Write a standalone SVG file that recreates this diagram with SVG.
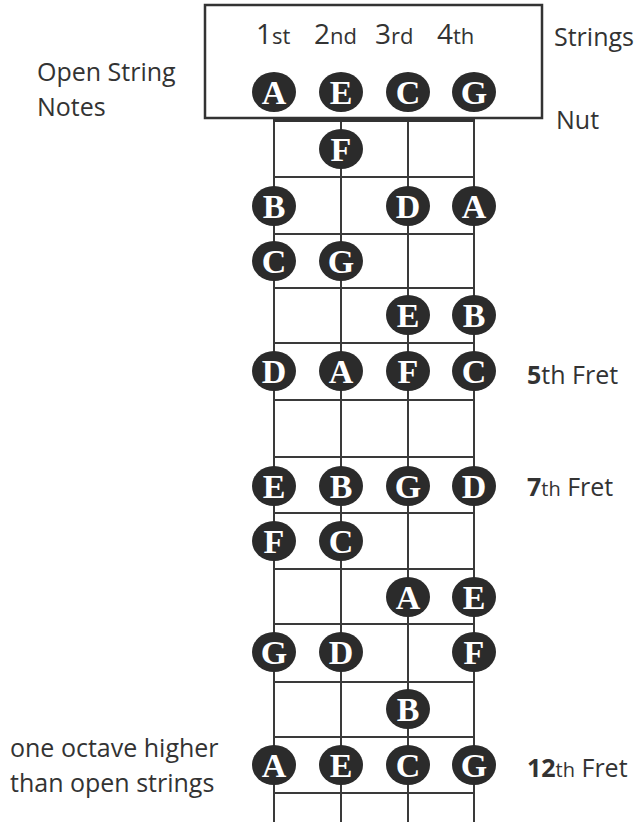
<svg xmlns="http://www.w3.org/2000/svg" width="635" height="822" viewBox="0 0 635 822">
<style>
.lbl{font-family:"Open Sans","Liberation Sans",sans-serif;fill:#333;font-size:25px}
.b{font-weight:bold}
.sm{font-size:20px}
.dot ellipse{fill:#2b2b2b}
.dot text{font-family:"Liberation Serif","DejaVu Serif",serif;font-weight:bold;font-size:34px;fill:#fff;text-anchor:middle}
.ln{stroke:#3a3a3a;stroke-width:2;fill:none}
</style>
<rect width="635" height="822" fill="#fff"/>
<g id="header">
<rect x="205" y="5" width="337" height="113" fill="none" stroke="#333" stroke-width="2.5"/>
<text class="lbl" y="44"><tspan x="256" font-size="28">1</tspan><tspan font-size="22">st</tspan></text>
<text class="lbl" y="44"><tspan x="314" font-size="28">2</tspan><tspan font-size="22">nd</tspan></text>
<text class="lbl" y="44"><tspan x="375" font-size="28">3</tspan><tspan font-size="22">rd</tspan></text>
<text class="lbl" y="44"><tspan x="437" font-size="28">4</tspan><tspan font-size="22">th</tspan></text>
</g>
<g id="connectors">
<line class="ln" x1="274" y1="120" x2="274" y2="822"/>
<line class="ln" x1="341" y1="120" x2="341" y2="822"/>
<line class="ln" x1="408" y1="120" x2="408" y2="822"/>
<line class="ln" x1="474" y1="120" x2="474" y2="822"/>
<line x1="273" y1="120.5" x2="475" y2="120.5" stroke="#333" stroke-width="3"/>
<g class="ln">
<line x1="274" y1="177" x2="474" y2="177"/>
<line x1="274" y1="234" x2="474" y2="234"/>
<line x1="274" y1="288" x2="474" y2="288"/>
<line x1="274" y1="343" x2="474" y2="343"/>
<line x1="274" y1="400" x2="474" y2="400"/>
<line x1="274" y1="457" x2="474" y2="457"/>
<line x1="274" y1="513" x2="474" y2="513"/>
<line x1="274" y1="569" x2="474" y2="569"/>
<line x1="274" y1="624" x2="474" y2="624"/>
<line x1="274" y1="682" x2="474" y2="682"/>
<line x1="274" y1="737" x2="474" y2="737"/>
<line x1="274" y1="793" x2="474" y2="793"/>
</g>
</g>
<g id="open-A" class="dot"><ellipse cx="274" cy="92" rx="22" ry="20"/><text x="274" y="104">A</text></g>
<g id="open-E" class="dot"><ellipse cx="341" cy="92" rx="22" ry="20"/><text x="341" y="104">E</text></g>
<g id="open-C" class="dot"><ellipse cx="408" cy="92" rx="22" ry="20"/><text x="408" y="104">C</text></g>
<g id="open-G" class="dot"><ellipse cx="474" cy="92" rx="22" ry="20"/><text x="474" y="104">G</text></g>
<g id="f1-F" class="dot"><ellipse cx="341" cy="149" rx="22" ry="20"/><text x="341" y="161">F</text></g>
<g id="f2-B" class="dot"><ellipse cx="274" cy="206" rx="22" ry="20"/><text x="274" y="218">B</text></g>
<g id="f2-D" class="dot"><ellipse cx="408" cy="206" rx="22" ry="20"/><text x="408" y="218">D</text></g>
<g id="f2-A" class="dot"><ellipse cx="474" cy="206" rx="22" ry="20"/><text x="474" y="218">A</text></g>
<g id="f3-C" class="dot"><ellipse cx="274" cy="261" rx="22" ry="20"/><text x="274" y="273">C</text></g>
<g id="f3-G" class="dot"><ellipse cx="341" cy="261" rx="22" ry="20"/><text x="341" y="273">G</text></g>
<g id="f4-E" class="dot"><ellipse cx="408" cy="315" rx="22" ry="20"/><text x="408" y="327">E</text></g>
<g id="f4-B" class="dot"><ellipse cx="474" cy="315" rx="22" ry="20"/><text x="474" y="327">B</text></g>
<g id="f5-D" class="dot"><ellipse cx="274" cy="371" rx="22" ry="20"/><text x="274" y="383">D</text></g>
<g id="f5-A" class="dot"><ellipse cx="341" cy="371" rx="22" ry="20"/><text x="341" y="383">A</text></g>
<g id="f5-F" class="dot"><ellipse cx="408" cy="371" rx="22" ry="20"/><text x="408" y="383">F</text></g>
<g id="f5-C" class="dot"><ellipse cx="474" cy="371" rx="22" ry="20"/><text x="474" y="383">C</text></g>
<g id="f7-E" class="dot"><ellipse cx="274" cy="486" rx="22" ry="20"/><text x="274" y="498">E</text></g>
<g id="f7-B" class="dot"><ellipse cx="341" cy="486" rx="22" ry="20"/><text x="341" y="498">B</text></g>
<g id="f7-G" class="dot"><ellipse cx="408" cy="486" rx="22" ry="20"/><text x="408" y="498">G</text></g>
<g id="f7-D" class="dot"><ellipse cx="474" cy="486" rx="22" ry="20"/><text x="474" y="498">D</text></g>
<g id="f8-F" class="dot"><ellipse cx="274" cy="541" rx="22" ry="20"/><text x="274" y="553">F</text></g>
<g id="f8-C" class="dot"><ellipse cx="341" cy="541" rx="22" ry="20"/><text x="341" y="553">C</text></g>
<g id="f9-A" class="dot"><ellipse cx="408" cy="597" rx="22" ry="20"/><text x="408" y="609">A</text></g>
<g id="f9-E" class="dot"><ellipse cx="474" cy="597" rx="22" ry="20"/><text x="474" y="609">E</text></g>
<g id="f10-G" class="dot"><ellipse cx="274" cy="652" rx="22" ry="20"/><text x="274" y="664">G</text></g>
<g id="f10-D" class="dot"><ellipse cx="341" cy="652" rx="22" ry="20"/><text x="341" y="664">D</text></g>
<g id="f10-F" class="dot"><ellipse cx="474" cy="652" rx="22" ry="20"/><text x="474" y="664">F</text></g>
<g id="f11-B" class="dot"><ellipse cx="408" cy="709" rx="22" ry="20"/><text x="408" y="721">B</text></g>
<g id="f12-A" class="dot"><ellipse cx="274" cy="765" rx="22" ry="20"/><text x="274" y="777">A</text></g>
<g id="f12-E" class="dot"><ellipse cx="341" cy="765" rx="22" ry="20"/><text x="341" y="777">E</text></g>
<g id="f12-C" class="dot"><ellipse cx="408" cy="765" rx="22" ry="20"/><text x="408" y="777">C</text></g>
<g id="f12-G" class="dot"><ellipse cx="474" cy="765" rx="22" ry="20"/><text x="474" y="777">G</text></g>
<g id="labels">
<text class="lbl" x="554" y="46">Strings</text>
<text class="lbl" x="556" y="129">Nut</text>
<text class="lbl" x="37" y="81">Open String</text>
<text class="lbl" x="37" y="116">Notes</text>
<text class="lbl" x="527" y="384"><tspan class="b">5</tspan>th Fret</text>
<text class="lbl" x="527" y="496"><tspan class="b">7</tspan><tspan class="sm">th</tspan> Fret</text>
<text class="lbl" x="527" y="777"><tspan class="b">12</tspan><tspan class="sm">th</tspan> Fret</text>
<text class="lbl" x="10" y="757">one octave higher</text>
<text class="lbl" x="10" y="792">than open strings</text>
</g>
</svg>
